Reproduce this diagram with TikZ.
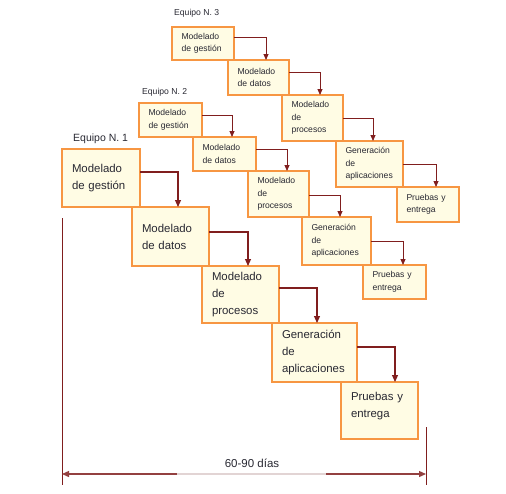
\documentclass[tikz,border=0pt]{standalone}
\usepackage{fontspec}
\setmainfont{Liberation Sans}
\usetikzlibrary{arrows.meta,calc}

\definecolor{boxfill}{RGB}{255,252,228}
\definecolor{boxedge}{RGB}{247,150,66}
\definecolor{flowred}{RGB}{128,30,30}
\definecolor{spanlight}{RGB}{226,212,212}
\definecolor{txt}{RGB}{40,40,50}

\tikzset{
  phase/.style={draw=boxedge, fill=boxfill, anchor=north west, align=left,
    inner ysep=0pt, outer sep=0pt, text=txt},
  big/.style={phase, line width=1.4pt, inner xsep=10pt,
    font=\fontsize{11.4}{17}\selectfont},
  small/.style={phase, line width=1.1pt, inner xsep=9.5pt,
    font=\fontsize{8.6}{12.5}\selectfont},
  teamlabel/.style={anchor=west, inner sep=0pt, text=txt},
  flowbig/.style={draw=flowred, line width=1.1pt, -{Triangle[length=7pt,width=6pt]}},
  flowsmall/.style={draw=flowred, line width=0.8pt, -{Triangle[length=6pt,width=5pt]}},
  edge/.style={draw=flowred, line width=0.9pt},
  spanarrow/.style={draw=flowred!85!white, line width=1.3pt, -{Triangle[length=7pt,width=6pt]}},
  spanmid/.style={draw=spanlight, line width=1.3pt},
}

% \flow{style}{source}{target}{drop below source top}{run past source right}
\newcommand\flow[5]{\draw[#1] ($(#2.north east)+(0,#4)$) -| ($(#2.east |- #3.north)+(#5,0)$);}

\begin{document}
\begin{tikzpicture}[x=1pt, y=-1pt]
\useasboundingbox (0,0) rectangle (506,493);

% Team 3
\node[teamlabel, font=\fontsize{8.6}{10}\selectfont] (t3) at (174,13) {Equipo N. 3};
\node[small, minimum width=62pt, minimum height=33pt, text width=43pt] (c1) at (172,27) {Modelado\\de gestión};
\node[small, minimum width=61pt, minimum height=35pt, text width=42pt] (c2) at (228,60) {Modelado\\de datos};
\node[small, minimum width=61pt, minimum height=46pt, text width=42pt] (c3) at (282,95) {Modelado\\de\\procesos};
\node[small, minimum width=67pt, minimum height=46pt, text width=48pt] (c4) at (336,141) {Generación\\de\\aplicaciones};
\node[small, minimum width=62pt, minimum height=35pt, text width=43pt] (c5) at (397,187) {Pruebas y\\entrega};
\flow{flowsmall}{c1}{c2}{10}{32}
\flow{flowsmall}{c2}{c3}{12}{31}
\flow{flowsmall}{c3}{c4}{23}{30}
\flow{flowsmall}{c4}{c5}{23}{33}

% Team 2
\node[teamlabel, font=\fontsize{8.6}{10}\selectfont] (t2) at (142,92) {Equipo N. 2};
\node[small, minimum width=63pt, minimum height=34pt, text width=44pt] (b1) at (139,103) {Modelado\\de gestión};
\node[small, minimum width=63pt, minimum height=34pt, text width=44pt] (b2) at (193,137) {Modelado\\de datos};
\node[small, minimum width=61pt, minimum height=46pt, text width=42pt] (b3) at (248,171) {Modelado\\de\\procesos};
\node[small, minimum width=69pt, minimum height=48pt, text width=50pt] (b4) at (302,217) {Generación\\de\\aplicaciones};
\node[small, minimum width=63pt, minimum height=34pt, text width=44pt] (b5) at (363,265) {Pruebas y\\entrega};
\flow{flowsmall}{b1}{b2}{12}{30}
\flow{flowsmall}{b2}{b3}{12}{31}
\flow{flowsmall}{b3}{b4}{24}{31}
\flow{flowsmall}{b4}{b5}{24}{32}

% Team 1
\node[teamlabel, font=\fontsize{10.5}{12}\selectfont] (t1) at (73,139) {Equipo N. 1};
\node[big, minimum width=78pt, minimum height=58pt, text width=58pt] (a1) at (62,149) {Modelado\\de gestión};
\node[big, minimum width=77pt, minimum height=59pt, text width=57pt] (a2) at (132,207) {Modelado\\de datos};
\node[big, minimum width=77pt, minimum height=57pt, text width=57pt] (a3) at (202,266) {Modelado\\de\\procesos};
\node[big, minimum width=85pt, minimum height=59pt, text width=65pt] (a4) at (272,323) {Generación\\de\\aplicaciones};
\node[big, minimum width=77pt, minimum height=57pt, text width=57pt, text depth=29pt] (a5) at (341,382) {Pruebas y\\entrega};
\flow{flowbig}{a1}{a2}{23}{38}
\flow{flowbig}{a2}{a3}{25}{39}
\flow{flowbig}{a3}{a4}{22}{38}
\flow{flowbig}{a4}{a5}{24}{38}

% Overall time span
\coordinate (leftTop) at (62,218);
\coordinate (leftBot) at (62,485);
\coordinate (rightTop) at (426,427);
\coordinate (rightBot) at (426,485);
\coordinate (spanL) at (62,474);
\coordinate (spanR) at (426,474);
\coordinate (gapL) at (177,474);
\coordinate (gapR) at (326,474);
\draw[edge] (leftTop) -- (leftBot);
\draw[edge] (rightTop) -- (rightBot);
\draw[spanmid] (gapL) -- (gapR);
\draw[spanarrow] (gapL) -- (spanL);
\draw[spanarrow] (gapR) -- (spanR);
\node[inner sep=0pt, text=txt, font=\fontsize{11.5}{13}\selectfont] (span) at (252,463) {60-90 días};
\end{tikzpicture}
\end{document}
